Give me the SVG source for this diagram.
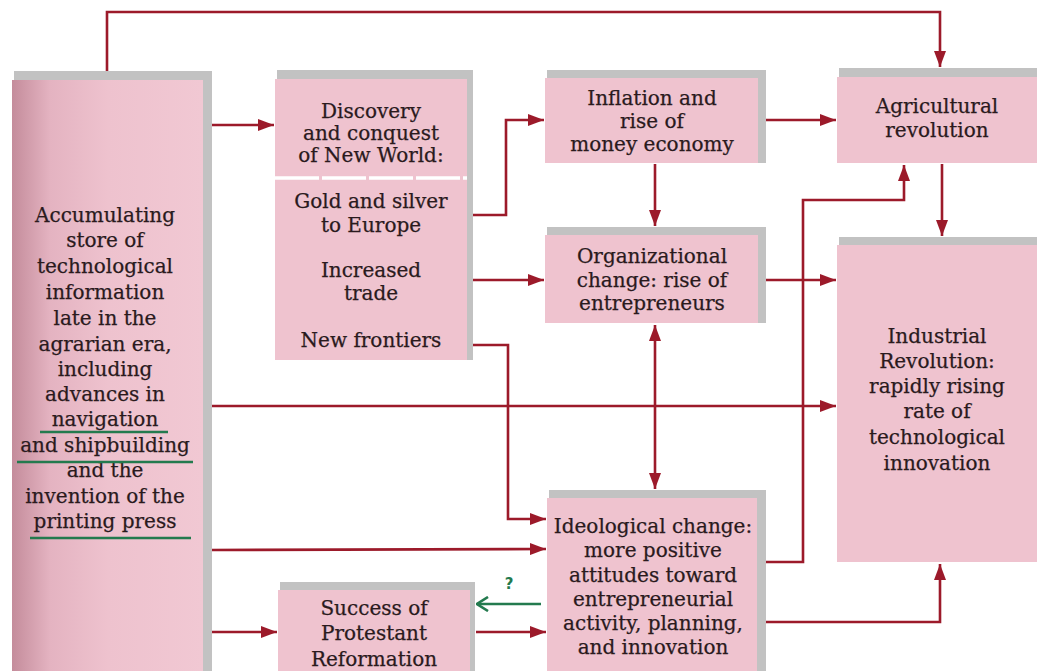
<svg xmlns="http://www.w3.org/2000/svg" width="1037" height="671" viewBox="0 0 1037 671">
  <defs>
    <style>
      .face { fill: #efc3cf; }
      .edge { fill: #c2c2c2; }
      .lbl { font-family: "DejaVu Serif", "Liberation Serif", serif; font-size: 20px; fill: #2a1a1d; text-anchor: middle; stroke: #2a1a1d; stroke-width: 0.25; }
      .wire { fill: none; stroke: #9c1a2a; stroke-width: 2.6; }
      .green { fill: none; stroke: #237a4e; stroke-width: 2.6; }
      .uline { stroke: #237a4e; stroke-width: 2.6; }
    </style>
    <linearGradient id="leftShade" x1="0" y1="0" x2="1" y2="0">
      <stop offset="0" stop-color="#c48c9b"/>
      <stop offset="0.2" stop-color="#e4b3c1"/>
      <stop offset="0.5" stop-color="#eec2ce"/>
      <stop offset="1" stop-color="#f1c8d3"/>
    </linearGradient>
    <marker id="head" markerUnits="userSpaceOnUse" markerWidth="16" markerHeight="12" refX="16" refY="6" orient="auto">
      <path d="M0,0 L16,6 L0,12 z" fill="#9c1a2a"/>
    </marker>
    <marker id="headStart" markerUnits="userSpaceOnUse" markerWidth="16" markerHeight="12" refX="0" refY="6" orient="auto">
      <path d="M16,0 L0,6 L16,12 z" fill="#9c1a2a"/>
    </marker>
    <marker id="openHead" markerUnits="userSpaceOnUse" markerWidth="14" markerHeight="16" refX="13" refY="8" orient="auto">
      <path d="M2,1 L13,8 L2,15" fill="none" stroke="#237a4e" stroke-width="2.6"/>
    </marker>
  </defs>

  <rect width="1037" height="671" fill="#ffffff"/>

  <!-- connectors -->
  <g id="connectors">
    <polyline class="wire" points="107,72 107,12 940,12 940,67" marker-end="url(#head)"/>
    <line class="wire" x1="211" y1="125" x2="274" y2="125" marker-end="url(#head)"/>
    <polyline class="wire" points="473,215 506,215 506,120 544,120" marker-end="url(#head)"/>
    <line class="wire" x1="473" y1="280" x2="544" y2="280" marker-end="url(#head)"/>
    <polyline class="wire" points="473,345 508,345 508,519 546,519" marker-end="url(#head)"/>
    <line class="wire" x1="766" y1="120" x2="836" y2="120" marker-end="url(#head)"/>
    <line class="wire" x1="655" y1="164" x2="655" y2="226" marker-end="url(#head)"/>
    <line class="wire" x1="766" y1="280" x2="836" y2="280" marker-end="url(#head)"/>
    <line class="wire" x1="942" y1="164" x2="942" y2="236" marker-end="url(#head)"/>
    <line class="wire" x1="655" y1="325" x2="655" y2="489" marker-start="url(#headStart)" marker-end="url(#head)"/>
    <line class="wire" x1="211" y1="406" x2="836" y2="406" marker-end="url(#head)"/>
    <line class="wire" x1="211" y1="550" x2="546" y2="549" marker-end="url(#head)"/>
    <polyline class="wire" points="766,562 803,562 803,200 904,200 904,165" marker-end="url(#head)"/>
    <polyline class="wire" points="766,622 940,622 940,564" marker-end="url(#head)"/>
    <line class="wire" x1="211" y1="632" x2="277" y2="632" marker-end="url(#head)"/>
    <line class="wire" x1="476" y1="632" x2="546" y2="632" marker-end="url(#head)"/>
    <line class="green" x1="541" y1="604" x2="477" y2="604" marker-end="url(#openHead)"/>
    <text x="509" y="589" font-family="DejaVu Sans, Liberation Sans, sans-serif" font-size="15" font-weight="bold" fill="#237a4e" text-anchor="middle">?</text>
  </g>

  <!-- accumulating store of technological information -->
  <g id="node-store">
    <rect class="edge" x="14" y="71" width="198" height="600"/>
    <rect x="12" y="80" width="191" height="591" fill="url(#leftShade)"/>
    <text class="lbl" x="105" y="222">Accumulating</text>
    <text class="lbl" x="105" y="247">store of</text>
    <text class="lbl" x="105" y="273">technological</text>
    <text class="lbl" x="105" y="299">information</text>
    <text class="lbl" x="105" y="325">late in the</text>
    <text class="lbl" x="105" y="351">agrarian era,</text>
    <text class="lbl" x="105" y="376">including</text>
    <text class="lbl" x="105" y="401">advances in</text>
    <text class="lbl" x="105" y="426">navigation</text>
    <text class="lbl" x="105" y="452">and shipbuilding</text>
    <text class="lbl" x="105" y="477">and the</text>
    <text class="lbl" x="105" y="503">invention of the</text>
    <text class="lbl" x="105" y="528">printing press</text>
    <line class="uline" x1="40" y1="432" x2="168" y2="432"/>
    <line class="uline" x1="17" y1="462" x2="193" y2="462"/>
    <line class="uline" x1="30" y1="538" x2="191" y2="538"/>
  </g>

  <!-- discovery and conquest of the New World -->
  <g id="node-discovery">
    <rect class="edge" x="277" y="70" width="196" height="290"/>
    <rect class="face" x="275" y="79" width="192" height="281"/>
    <line x1="275" y1="178" x2="467" y2="178" stroke="#ffffff" stroke-width="3.5" stroke-dasharray="44 3"/>
    <text class="lbl" x="371" y="118">Discovery</text>
    <text class="lbl" x="371" y="140">and conquest</text>
    <text class="lbl" x="371" y="162">of New World:</text>
    <text class="lbl" x="371" y="208">Gold and silver</text>
    <text class="lbl" x="371" y="232">to Europe</text>
    <text class="lbl" x="371" y="277">Increased</text>
    <text class="lbl" x="371" y="300">trade</text>
    <text class="lbl" x="371" y="347">New frontiers</text>
  </g>

  <!-- inflation -->
  <g id="node-inflation">
    <rect class="edge" x="547" y="70" width="219" height="93"/>
    <rect class="face" x="545" y="78" width="213" height="85"/>
    <text class="lbl" x="652" y="105">Inflation and</text>
    <text class="lbl" x="652" y="128">rise of</text>
    <text class="lbl" x="652" y="151">money economy</text>
  </g>

  <!-- organizational change -->
  <g id="node-organizational">
    <rect class="edge" x="547" y="227" width="219" height="96"/>
    <rect class="face" x="545" y="235" width="213" height="88"/>
    <text class="lbl" x="652" y="263">Organizational</text>
    <text class="lbl" x="652" y="287">change: rise of</text>
    <text class="lbl" x="652" y="310">entrepreneurs</text>
  </g>

  <!-- agricultural revolution -->
  <g id="node-agricultural">
    <rect class="edge" x="839" y="68" width="198" height="95"/>
    <rect class="face" x="837" y="77" width="200" height="86"/>
    <text class="lbl" x="937" y="113">Agricultural</text>
    <text class="lbl" x="937" y="137">revolution</text>
  </g>

  <!-- industrial revolution -->
  <g id="node-industrial">
    <rect class="edge" x="839" y="237" width="198" height="325"/>
    <rect class="face" x="837" y="245" width="200" height="317"/>
    <text class="lbl" x="937" y="343">Industrial</text>
    <text class="lbl" x="937" y="368">Revolution:</text>
    <text class="lbl" x="937" y="393">rapidly rising</text>
    <text class="lbl" x="937" y="418">rate of</text>
    <text class="lbl" x="937" y="444">technological</text>
    <text class="lbl" x="937" y="470">innovation</text>
  </g>

  <!-- ideological change -->
  <g id="node-ideological">
    <rect class="edge" x="549" y="490" width="217" height="181"/>
    <rect class="face" x="547" y="498" width="210" height="173"/>
    <text class="lbl" x="653" y="533">Ideological change:</text>
    <text class="lbl" x="653" y="557">more positive</text>
    <text class="lbl" x="653" y="582">attitudes toward</text>
    <text class="lbl" x="653" y="606">entrepreneurial</text>
    <text class="lbl" x="653" y="630">activity, planning,</text>
    <text class="lbl" x="653" y="654">and innovation</text>
  </g>

  <!-- protestant reformation -->
  <g id="node-protestant">
    <rect class="edge" x="280" y="582" width="195" height="89"/>
    <rect class="face" x="278" y="590" width="192" height="81"/>
    <text class="lbl" x="374" y="615">Success of</text>
    <text class="lbl" x="374" y="640">Protestant</text>
    <text class="lbl" x="374" y="666">Reformation</text>
  </g>
</svg>
